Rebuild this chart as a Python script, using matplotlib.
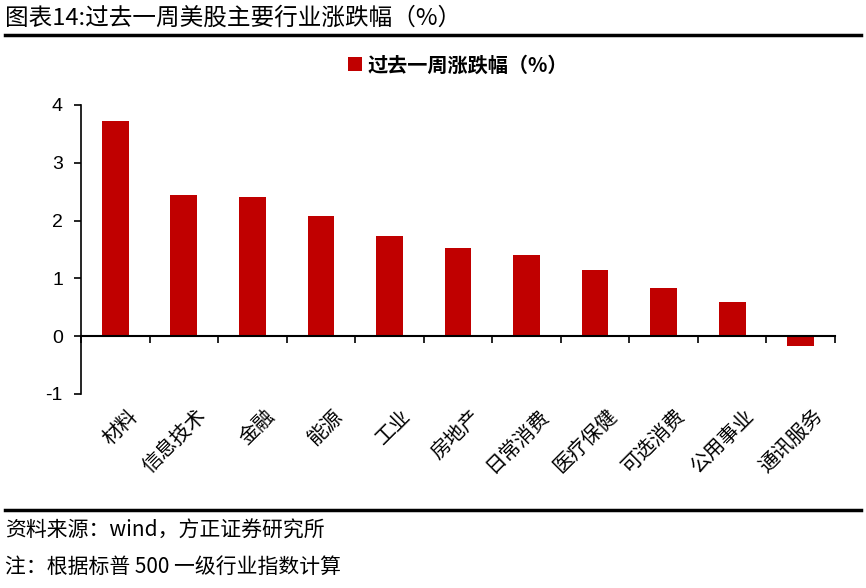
import matplotlib.pyplot as plt
from matplotlib.lines import Line2D
import numpy as np

plt.rcParams['font.family'] = ['Noto Sans CJK SC', 'DejaVu Sans']

# 数据
categories = ['材料', '信息技术', '金融', '能源', '工业', '房地产', '日常消费',
              '医疗保健', '可选消费', '公用事业', '通讯服务']
values = [3.73, 2.44, 2.40, 2.08, 1.73, 1.52, 1.40, 1.15, 0.83, 0.60, -0.17]
yticks = [-1, 0, 1, 2, 3, 4]

W, H = 866, 588
fig = plt.figure(figsize=(W / 100, H / 100), dpi=100)
ax = fig.add_axes([81 / W, 1 - 394 / H, (835 - 81) / W, (394 - 105) / H])

x = np.arange(len(categories))
ax.bar(x, values, width=0.39, color='#C00000', label='过去一周涨跌幅（%）', zorder=2)

ax.set_xlim(-0.5, len(categories) - 0.5)
ax.set_ylim(-1, 4)
ax.set_yticks(yticks)
ax.set_yticklabels([str(v) for v in yticks], fontsize=14, family='Liberation Sans')

# x轴放在0处, 刻度在类别之间
ax.spines['bottom'].set_position(('data', 0))
ax.spines['bottom'].set_linewidth(1.5)
ax.spines['left'].set_linewidth(1.2)
ax.spines['top'].set_visible(False)
ax.spines['right'].set_visible(False)
ax.set_xticks(np.arange(len(categories) + 1) - 0.5)
ax.set_xticklabels([])
ax.tick_params(axis='x', direction='out', length=5, width=1.2)
ax.tick_params(axis='y', direction='out', length=5, width=1.2, pad=8)

for i, c in enumerate(categories):
    ax.text(i + 0.17, -1.2, c, rotation=45, ha='right', va='top',
            rotation_mode='anchor', fontsize=14.5)

ax.legend(loc='lower center', bbox_to_anchor=(0.5, 1.04), frameon=False,
          handlelength=0.7, handleheight=0.7, handletextpad=0.3,
          prop={'weight': 'bold', 'size': 14.5})

# 标题和分隔线
fig.text(5 / W, 1 - 18 / H, '图表14:过去一周美股主要行业涨跌幅（%）', fontsize=17,
         ha='left', va='center')
fig.add_artist(Line2D([5 / W, 861 / W], [1 - 35 / H, 1 - 35 / H], color='black', lw=2.5))
fig.add_artist(Line2D([5 / W, 861 / W], [1 - 510 / H, 1 - 510 / H], color='black', lw=2.5))
fig.text(5 / W, 1 - 531 / H, '资料来源：wind，方正证券研究所', fontsize=15,
         ha='left', va='center', style='italic')
fig.text(5 / W, 1 - 567 / H, '注：根据标普 500 一级行业指数计算', fontsize=15,
         ha='left', va='center', style='italic')

fig.savefig('out.png', dpi=100)
